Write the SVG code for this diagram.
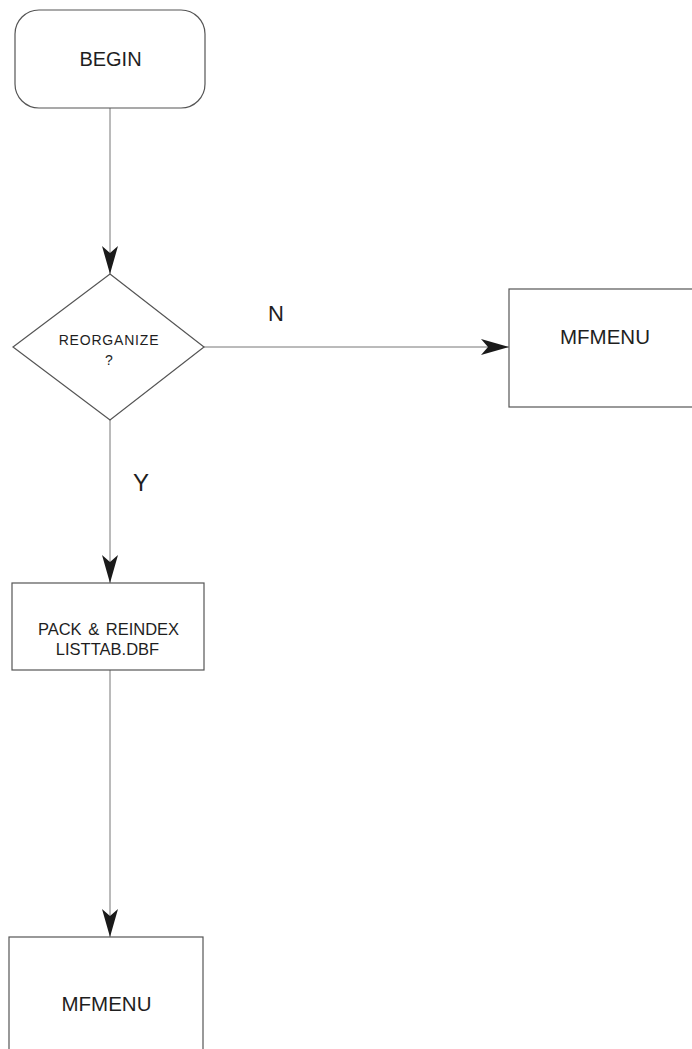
<svg xmlns="http://www.w3.org/2000/svg" width="692" height="1049" viewBox="0 0 692 1049">
  <style>
    .shape { fill: #ffffff; stroke: #555555; stroke-width: 1.2; }
    .wire { fill: none; stroke: #777777; stroke-width: 1; }
    .lbl { font-family: "Liberation Sans", Arial, sans-serif; fill: #1e1e1e; text-anchor: middle; }
  </style>
  <defs>
    <!-- notched arrowhead, tip at the end of the path -->
    <marker id="arrow" markerUnits="userSpaceOnUse" markerWidth="30" markerHeight="18" viewBox="0 0 30 18" refX="28" refY="9" orient="auto">
      <path d="M0,1 L28,9 L0,17 L7,9 Z" fill="#1a1a1a"/>
    </marker>
  </defs>
  <rect width="692" height="1049" fill="#ffffff"/>

  <g id="connectors">
    <path class="wire" d="M110,108 V274" marker-end="url(#arrow)"/>
    <path class="wire" d="M204,347 H509" marker-end="url(#arrow)"/>
    <path class="wire" d="M110,420 V583" marker-end="url(#arrow)"/>
    <path class="wire" d="M110,670 V937" marker-end="url(#arrow)"/>
    <text class="lbl" x="276" y="321" font-size="22">N</text>
    <text class="lbl" x="141" y="491" font-size="24">Y</text>
  </g>

  <g id="begin">
    <rect class="shape" x="15" y="10" width="190" height="98" rx="24" ry="24"/>
    <text class="lbl" x="110.5" y="66" font-size="20">BEGIN</text>
  </g>

  <g id="reorganize">
    <polygon class="shape" points="110,274 204,347 110,420 13,347"/>
    <text class="lbl" x="109" y="345" font-size="14" letter-spacing="0.8">REORGANIZE</text>
    <text class="lbl" x="109" y="365" font-size="14">?</text>
  </g>

  <g id="mfmenu-right">
    <rect class="shape" x="509" y="289" width="190" height="118"/>
    <text class="lbl" x="605" y="344" font-size="20.5">MFMENU</text>
  </g>

  <g id="pack-reindex">
    <rect class="shape" x="12" y="583" width="192" height="87"/>
    <text class="lbl" x="108.5" y="635" font-size="16.5" word-spacing="2">PACK &amp; REINDEX</text>
    <text class="lbl" x="107.5" y="655" font-size="16.5">LISTTAB.DBF</text>
  </g>

  <g id="mfmenu-bottom">
    <rect class="shape" x="9" y="937" width="194" height="130"/>
    <text class="lbl" x="106.5" y="1011" font-size="20.5">MFMENU</text>
  </g>
</svg>
